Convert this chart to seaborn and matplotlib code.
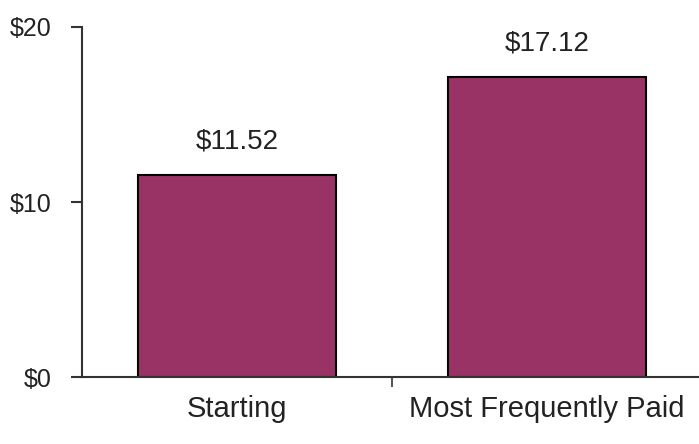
import matplotlib
matplotlib.use("Agg")
import matplotlib.pyplot as plt
import seaborn as sns
import pandas as pd

# wage data
categories = ["Starting", "Most Frequently Paid"]
wages = [11.52, 17.12]
bar_labels = ["$11.52", "$17.12"]
y_ticks = [0, 10, 20]
y_tick_labels = ["$0", "$10", "$20"]

bar_color = "#993366"
text_color = "#222222"

sns.set_style("white")
plt.rcParams["font.family"] = ["Liberation Sans", "DejaVu Sans"]

df = pd.DataFrame({"category": categories, "wage": wages})

fig = plt.figure(figsize=(6.99, 4.44), dpi=100)
ax = fig.add_axes([82 / 699, 67 / 444, (699 - 82) / 699, 350 / 444])

sns.barplot(data=df, x="category", y="wage", color=bar_color, saturation=1,
            width=0.64, edgecolor="black", linewidth=1.5, ax=ax)

for i, (v, lab) in enumerate(zip(wages, bar_labels)):
    ax.text(i, v + 1.2, lab, ha="center", va="bottom", fontsize=20, color=text_color)

ax.set_ylim(0, 20)
ax.set_xlim(-0.5, 1.49)
ax.set_yticks(y_ticks)
ax.set_yticklabels(y_tick_labels, fontsize=18, color=text_color)
ax.set_xticks([0.5])
ax.set_xticklabels([""])
ax.tick_params(axis="y", direction="out", length=8, width=1.5, color="#333333", left=True, pad=14)
ax.tick_params(axis="x", direction="out", length=7, width=1.2, color="#333333", bottom=True)

# category names under the bars (ticks sit between categories)
for i, c in enumerate(categories):
    ax.text(i, -1.0, c, ha="center", va="top", fontsize=21, color=text_color)

ax.set_xlabel("")
ax.set_ylabel("")
for side in ["top", "right"]:
    ax.spines[side].set_visible(False)
for side in ["left", "bottom"]:
    ax.spines[side].set_color("#333333")
    ax.spines[side].set_linewidth(1.5)

fig.savefig("out.png", dpi=100)
